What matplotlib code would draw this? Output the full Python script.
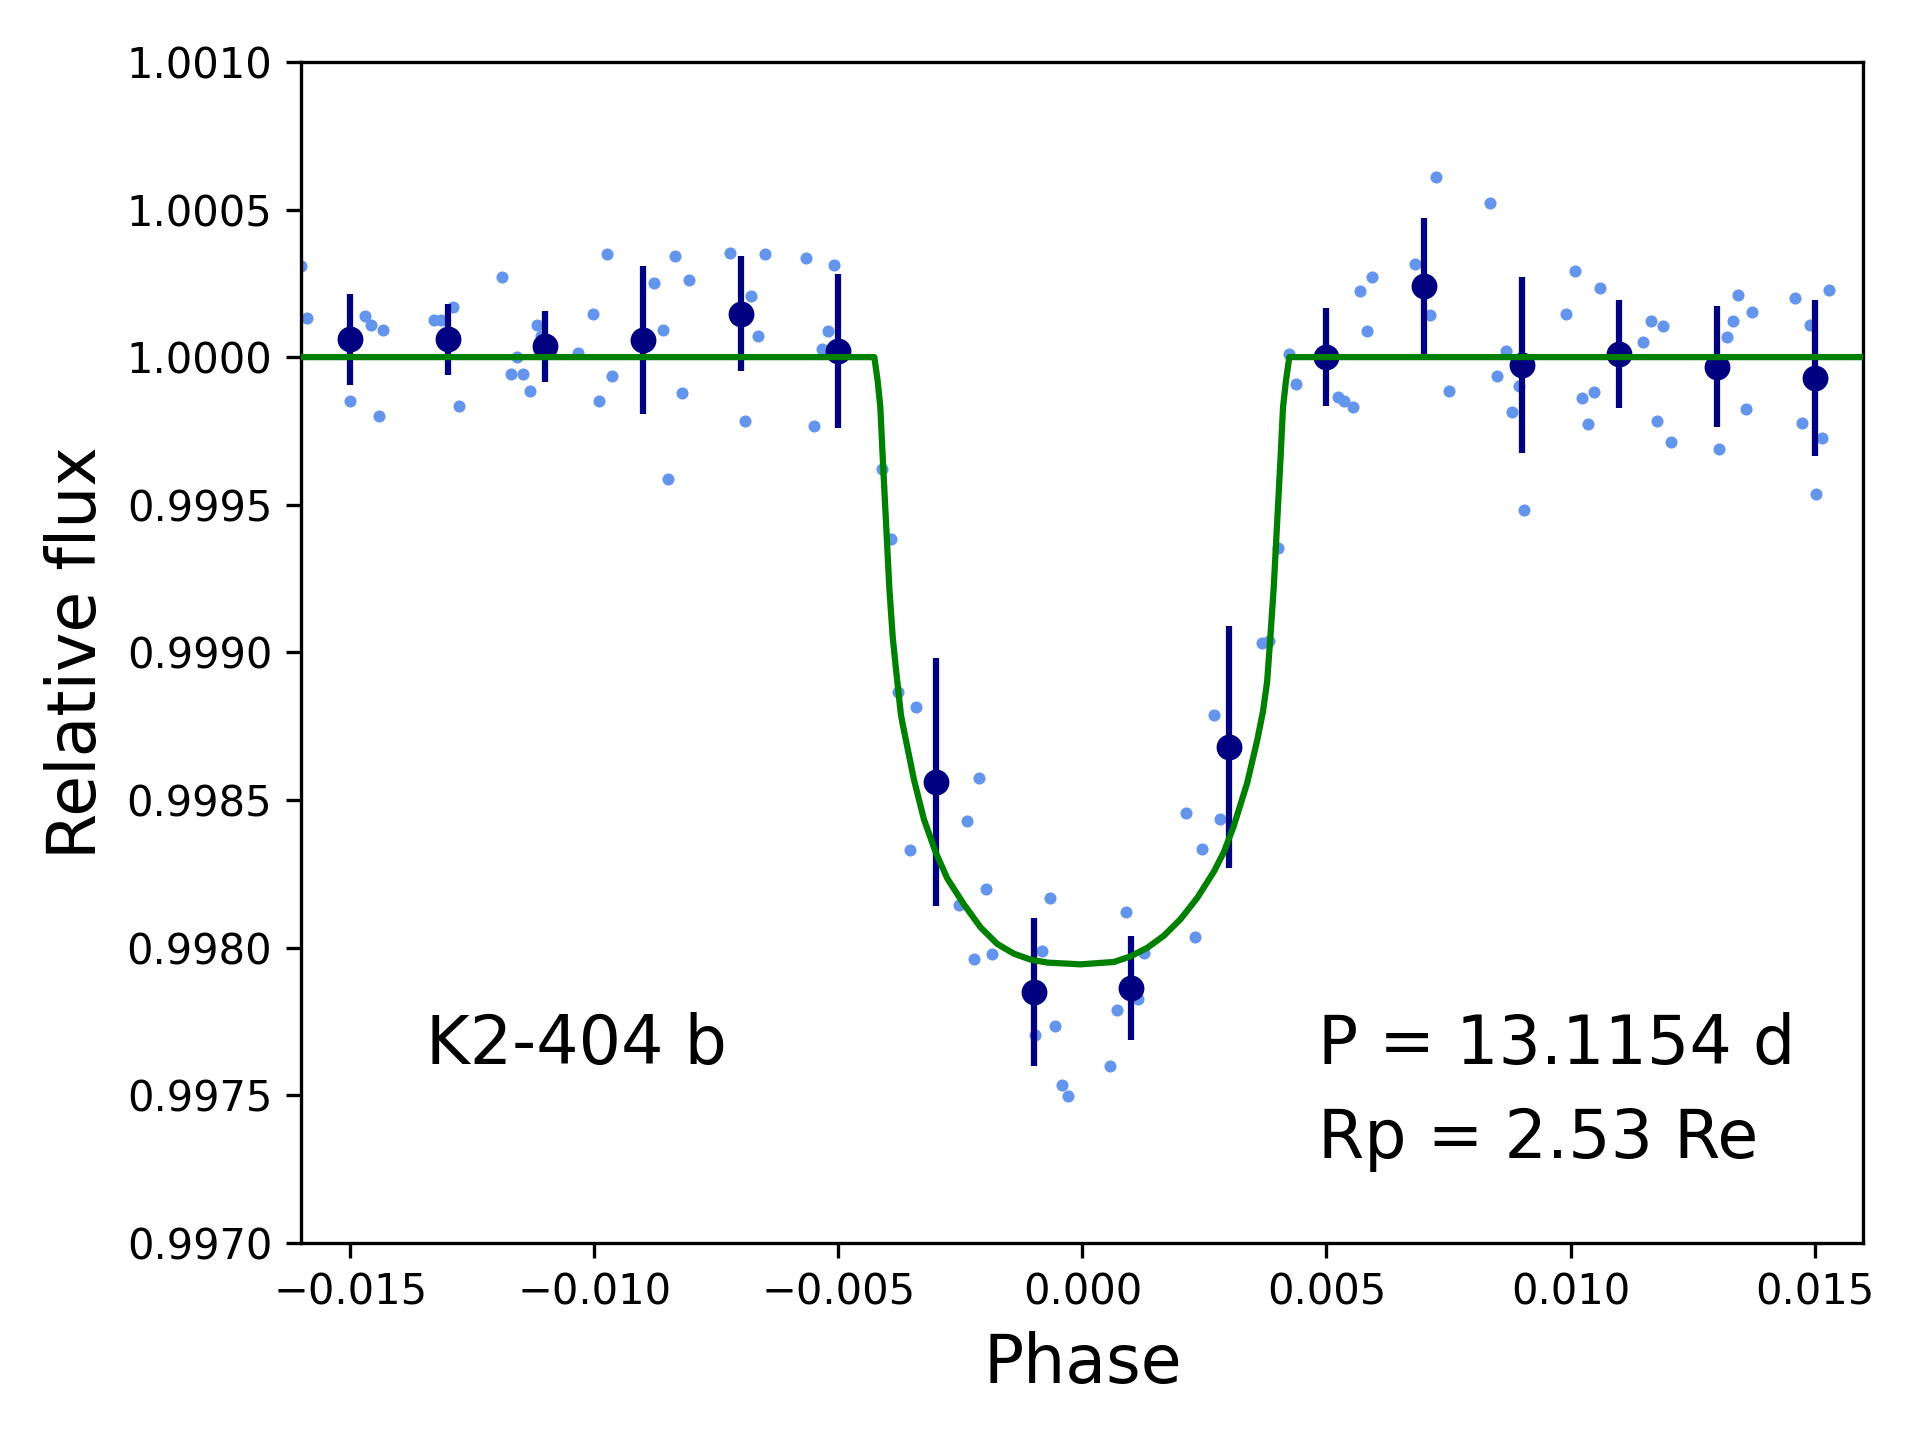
import matplotlib
matplotlib.use('Agg')
import matplotlib.pyplot as plt
from matplotlib.ticker import FormatStrFormatter, MultipleLocator

# pontos individuais (fase, fluxo)
phase_pts = [-0.01600, -0.01588, -0.01500, -0.01490, -0.01470, -0.01457, -0.01442, -0.01432,
             -0.01329, -0.01314, -0.01300, -0.01289, -0.01277, -0.01189, -0.01171, -0.01159,
             -0.01146, -0.01131, -0.01118, -0.01110, -0.01033, -0.01003, -0.00990, -0.00975,
             -0.00963, -0.00877, -0.00860, -0.00850, -0.00835, -0.00820, -0.00807, -0.00722,
             -0.00692, -0.00679, -0.00664, -0.00651, -0.00566, -0.00549, -0.00533, -0.00521,
             -0.00508, -0.00500,
             -0.00410, -0.00393, -0.00378, -0.00353, -0.00340, -0.00252, -0.00237, -0.00222,
             -0.00212, -0.00197, -0.00185, -0.00097, -0.00082, -0.00067, -0.00057, -0.00042,
             -0.00029, 0.00056, 0.00071, 0.00089, 0.00104, 0.00114, 0.00127, 0.00212,
             0.00230, 0.00245, 0.00270, 0.00282, 0.00368, 0.00383, 0.00400, 0.00423, 0.00438,
             0.00523, 0.00536, 0.00554, 0.00569, 0.00584, 0.00594, 0.00682, 0.00712, 0.00724,
             0.00752, 0.00835, 0.00850, 0.00867, 0.00880, 0.00895, 0.00905, 0.00990, 0.01010,
             0.01023, 0.01035, 0.01048, 0.01061, 0.01149, 0.01164, 0.01177, 0.01189, 0.01205,
             0.01304, 0.01320, 0.01332, 0.01344, 0.01359, 0.01372, 0.01460, 0.01475, 0.01490,
             0.01502, 0.01515, 0.01530]
flux_pts = [1.000308, 1.000134, 0.999852, 1.000060, 1.000138, 1.000109, 0.999802, 1.000092,
            1.000125, 1.000125, 1.000060, 1.000171, 0.999835, 1.000270, 0.999943, 1.000001,
            0.999943, 0.999885, 1.000109, 1.000070, 1.000013, 1.000146, 0.999852, 1.000349,
            0.999935, 1.000250, 1.000092, 0.999587, 1.000341, 0.999877, 1.000262, 1.000353,
            0.999785, 1.000208, 1.000071, 1.000349, 1.000337, 0.999765, 1.000026, 1.000088,
            1.000312, 1.000040,
            0.999620, 0.999383, 0.998865, 0.998331, 0.998815, 0.998144, 0.998430, 0.997962,
            0.998575, 0.998198, 0.997978, 0.997705, 0.997987, 0.998169, 0.997734, 0.997535,
            0.997497, 0.997597, 0.997788, 0.998119, 0.997854, 0.997825, 0.997982, 0.998455,
            0.998036, 0.998335, 0.998787, 0.998434, 0.999031, 0.999039, 0.999354, 1.000009,
            0.999910,
            0.999864, 0.999852, 0.999831, 1.000225, 1.000088, 1.000270, 1.000316, 1.000142,
            1.000610, 0.999885, 1.000523, 0.999935, 1.000022, 0.999815, 0.999902, 0.999483,
            1.000146, 1.000291, 0.999860, 0.999773, 0.999881, 1.000233, 1.000051, 1.000121,
            0.999785, 1.000105, 0.999711, 0.999690, 1.000067, 1.000121, 1.000212, 0.999823,
            1.000154, 1.000200, 0.999777, 1.000109, 0.999537, 0.999727, 1.000229]

# pontos binados
phase_bin = [-0.015, -0.013, -0.011, -0.009, -0.007, -0.005, -0.003, -0.001,
             0.001, 0.003, 0.005, 0.007, 0.009, 0.011, 0.013, 0.015]
flux_bin = [1.000060, 1.000060, 1.000036, 1.000057, 1.000147, 1.000021, 0.998560, 0.997850,
            0.997863, 0.998680, 1.000000, 1.000240, 0.999973, 1.000010, 0.999968, 0.999930]
err_bin = [0.000154, 0.000120, 0.000121, 0.000250, 0.000195, 0.000262, 0.000421, 0.000250,
           0.000176, 0.000410, 0.000165, 0.000231, 0.000298, 0.000184, 0.000205, 0.000264]

# modelo de transito
phase_model = [-0.0160, -0.004263, -0.004195, -0.004140, -0.004092, -0.004024, -0.003956,
               -0.003887, -0.003819, -0.003717, -0.003655, -0.003450, -0.003246, -0.003007,
               -0.002768, -0.002427, -0.002085, -0.001744, -0.001403, -0.001061, -0.000720,
               -0.000040, 0.000645, 0.000986, 0.001328, 0.001669, 0.002010, 0.002352,
               0.002693, 0.002898, 0.003102, 0.003375, 0.003580, 0.003700, 0.003785,
               0.003850, 0.003920, 0.003990, 0.004060, 0.004110, 0.004170, 0.004240, 0.0160]
flux_model = [1.0, 1.0, 0.999920, 0.999831, 0.999664, 0.999442, 0.999220,
              0.999053, 0.998942, 0.998787, 0.998734, 0.998568, 0.998434, 0.998323,
              0.998234, 0.998146, 0.998068, 0.998012, 0.997979, 0.997959, 0.997949,
              0.997943, 0.997951, 0.997970, 0.997999, 0.998040, 0.998096, 0.998168,
              0.998257, 0.998323, 0.998412, 0.998557, 0.998701, 0.998800, 0.998901,
              0.999050, 0.999220, 0.999440, 0.999660, 0.999830, 0.999920, 1.0, 1.0]

fig = plt.figure(figsize=(6.4, 4.8), dpi=300)
ax = fig.add_axes([0.157, 0.137, 0.8135, 0.820])

ax.plot(phase_pts, flux_pts, 'o', color='cornflowerblue', markersize=2.9, markeredgewidth=0)
ax.errorbar(phase_bin, flux_bin, yerr=err_bin, fmt='o', color='navy', markersize=5.2,
            elinewidth=1.5, capsize=0, zorder=3)
ax.plot(phase_model, flux_model, color='green', linewidth=1.5, zorder=4,
        solid_joinstyle='round')

ax.set_xlim(-0.016, 0.016)
ax.set_ylim(0.997, 1.001)
ax.xaxis.set_major_locator(MultipleLocator(0.005))
ax.yaxis.set_major_locator(MultipleLocator(0.0005))
ax.yaxis.set_major_formatter(FormatStrFormatter('%.4f'))
ax.tick_params(labelsize=10, width=0.8, length=3.5)
for s in ax.spines.values():
    s.set_linewidth(0.8)

ax.set_xlabel('Phase', fontsize=16)
ax.set_ylabel('Relative flux', fontsize=16)

ax.text(-0.01344, 0.99767, 'K2-404 b', fontsize=16, va='center')
ax.text(0.00483, 0.99767, 'P = 13.1154 d', fontsize=16, va='center')
ax.text(0.00483, 0.997352, 'Rp = 2.53 Re', fontsize=16, va='center')

plt.savefig('out.png', dpi=300)
